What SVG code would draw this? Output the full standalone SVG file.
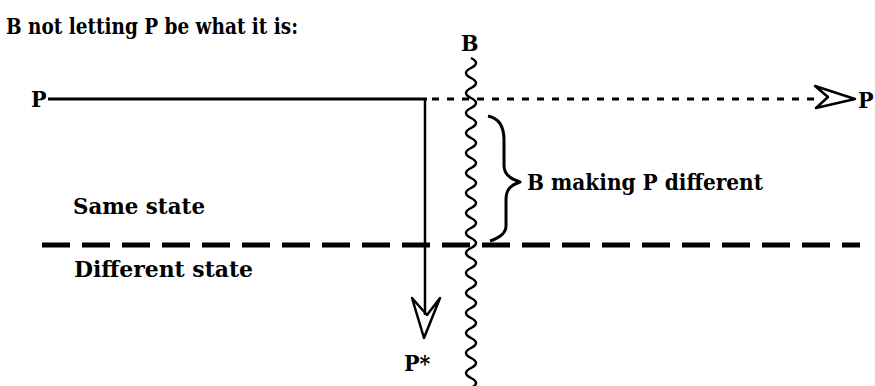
<svg xmlns="http://www.w3.org/2000/svg" width="875" height="386" viewBox="0 0 875 386">
<style>
text{font-family:"DejaVu Serif Condensed","DejaVu Serif",serif;font-weight:bold;font-size:23px;fill:#000}
.ln{fill:none;stroke:#000;stroke-linecap:butt}
</style>
<rect width="875" height="386" fill="#fff"/>
<g id="title"><text x="6" y="34" textLength="292" lengthAdjust="spacingAndGlyphs">B not letting P be what it is:</text></g>
<g id="labels">
<text x="31" y="107">P</text>
<text x="461" y="51">B</text>
<text x="73" y="214" textLength="132" lengthAdjust="spacingAndGlyphs">Same state</text>
<text x="74" y="277" textLength="179" lengthAdjust="spacingAndGlyphs">Different state</text>
</g>
<g id="connectors">
<line class="ln" x1="48" y1="99" x2="427" y2="99" stroke-width="3"/>
<line class="ln" x1="432" y1="99" x2="814" y2="99" stroke-width="3" stroke-dasharray="7 8"/>
<line class="ln" x1="425" y1="99" x2="425" y2="315" stroke-width="2.5"/>
<line class="ln" x1="42" y1="245" x2="860" y2="245" stroke-width="5" stroke-dasharray="28 12"/>
<path class="ln" stroke-width="2.5" stroke-linejoin="round" d="M815,86 L855,99 L816,108 L828,97 Z"/>
<path class="ln" stroke-width="2.5" stroke-linejoin="round" d="M412,298 L427,315 L440,298 L424,338 Z"/>
</g>
<g id="node-P-right"><text x="858" y="108">P</text></g>
<g id="node-Pstar"><text x="404" y="371">P*</text></g>
<g id="barrier-B">
<path class="ln" stroke-width="2.5" d="M471,58 q10,5 0,10 q-10,5 0,10 q10,5 0,10 q-10,5 0,10 q10,5 0,10 q-10,5 0,10 q10,5 0,10 q-10,5 0,10 q10,5 0,10 q-10,5 0,10 q10,5 0,10 q-10,5 0,10 q10,5 0,10 q-10,5 0,10 q10,5 0,10 q-10,5 0,10 q10,5 0,10 q-10,5 0,10 q10,5 0,10 q-10,5 0,10 q10,5 0,10 q-10,5 0,10 q10,5 0,10 q-10,5 0,10 q10,5 0,10 q-10,5 0,10 q10,5 0,10 q-10,5 0,10 q10,5 0,10 q-10,5 0,10 q10,5 0,10 q-10,5 0,10 q10,5 0,10"/>
</g>
<g id="brace">
<path class="ln" stroke-width="3" stroke-linejoin="round" d="M488,116 C498,118 504,126 504,140 L504,165 C504,173 508,178 520,182 C508,186 506,192 506,200 L506,226 C506,233 499,238 490,241"/>
<text x="527" y="190" textLength="236" lengthAdjust="spacingAndGlyphs">B making P different</text>
</g>
</svg>
